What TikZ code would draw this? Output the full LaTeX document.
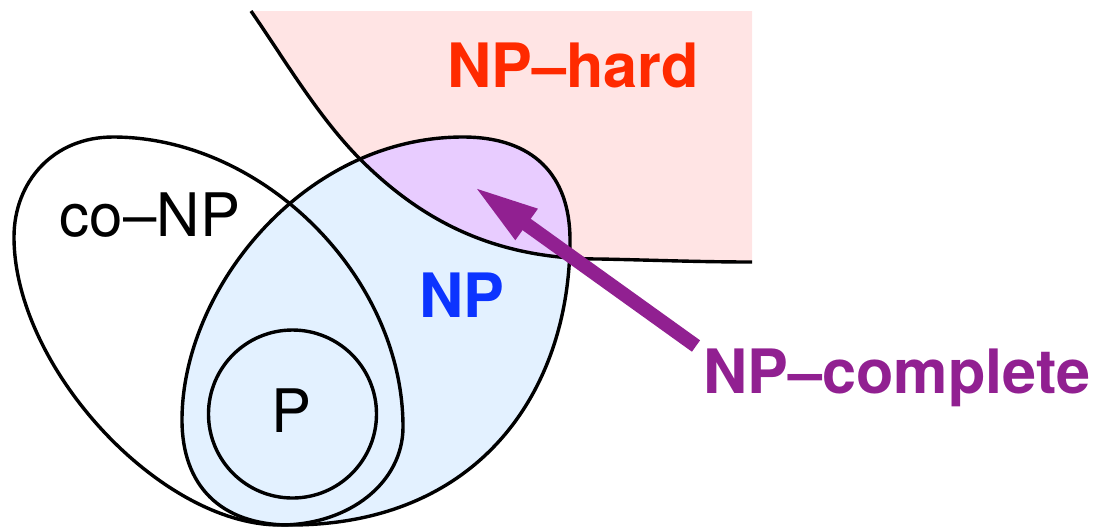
\documentclass[tikz,border=0pt]{standalone}
\usepackage{fontspec}
\setmainfont{TeX Gyre Heros}
\usetikzlibrary{arrows.meta}
\definecolor{hardfill}{RGB}{255,228,228}
\definecolor{npfill}{RGB}{227,241,255}
\definecolor{npcfill}{RGB}{232,204,255}
\definecolor{npblue}{RGB}{12,52,255}
\definecolor{hardred}{RGB}{255,42,0}
\definecolor{npcpurple}{RGB}{145,32,145}
\tikzset{
  outline/.style={draw=black, line width=1.7pt},
  lbl/.style={inner sep=0pt, anchor=base, font=\fontsize{30}{36}\selectfont},
  blbl/.style={inner sep=0pt, anchor=base, font=\fontsize{30.6}{36}\selectfont\bfseries},
  bigarrow/.style={draw=npcpurple, line width=7pt, -{Triangle[length=33pt,width=17pt]}}
}
\begin{document}
\begin{tikzpicture}[x=0.5pt,y=-0.5pt]
\useasboundingbox (0,0) rectangle (1103,527);
% NP-hard region
\path[save path=\hardregion] (251,11) .. controls (285,60) and (320,120) .. (363,162)
   .. controls (427,225) and (500,259) .. (600,259)
   .. controls (650,260) and (700,262) .. (752,262) -- (752,11) -- cycle;
\fill[hardfill, use path=\hardregion];
% NP
\path[save path=\nppath] (182,420) .. controls (182,290) and (303,137) .. (463,137)
   .. controls (533,137) and (570,175) .. (570,240)
   .. controls (570,390) and (480,525) .. (290,525)
   .. controls (220,525) and (182,485) .. (182,420) -- cycle;
\fill[npfill, use path=\nppath];
\begin{scope}
  \clip[use path=\hardregion];
  \fill[npcfill, use path=\nppath];
\end{scope}
% NP-hard boundary
\draw[outline] (251,11) .. controls (285,60) and (320,120) .. (363,162)
   .. controls (427,225) and (500,259) .. (600,259)
   .. controls (650,260) and (700,262) .. (752,262);
% co-NP
\draw[outline] (14,237) .. controls (14,182) and (53,137) .. (113,137)
   .. controls (263,137) and (403,277) .. (403,427)
   .. controls (403,482) and (350,525) .. (280,525)
   .. controls (160,525) and (14,367) .. (14,237) -- cycle;
% NP outline
\draw[outline, use path=\nppath];
% P
\draw[outline] (292.5,414) circle[radius=84];
% labels
\node[lbl] (conp) at (150,236) {co–NP};
\node[blbl, text=npblue] (np) at (462,317) {NP};
\node[lbl] (p) at (292,432) {P};
\node[blbl, text=hardred] (nphard) at (573,87) {NP–hard};
\node[blbl, text=npcpurple] (npc) at (897,393) {NP–complete};
% arrow
\coordinate (tail) at (696,346);
\coordinate (tip) at (473,186);
\draw[bigarrow] (tail) -- (tip);
\end{tikzpicture}
\end{document}
